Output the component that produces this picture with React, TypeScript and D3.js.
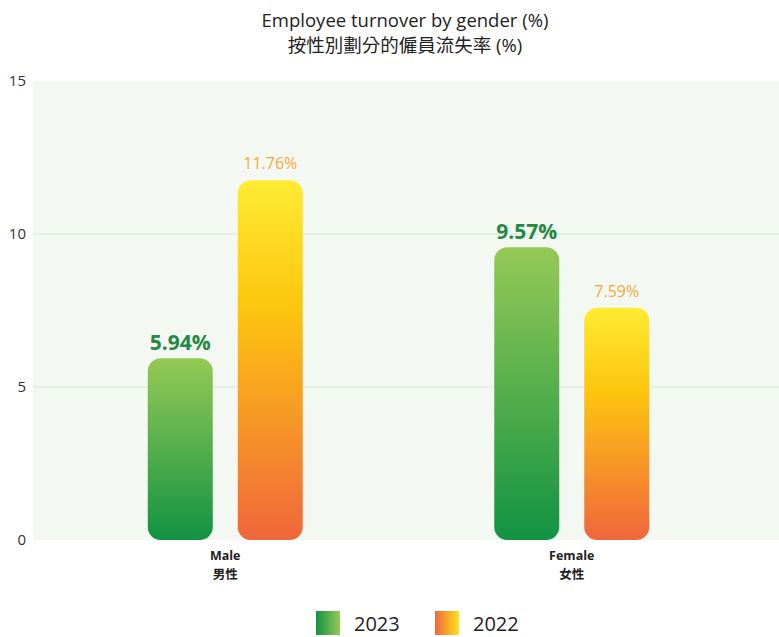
import * as d3 from "d3";

const categories = ["Male", "Female"];
const categoriesZh = ["男性", "女性"];
const seriesNames = ["2023", "2022"];
const values2023 = [5.94, 9.57];
const values2022 = [11.76, 7.59];
const yTicks = [0, 5, 10, 15];

const W = 779;
const H = 637;
const FONT = "'Open Sans', 'Noto Sans', 'Noto Sans CJK TC', sans-serif";
const plot = { left: 33, right: 779, top: 81, bottom: 540 };
const GROUP_W = 155;

export default function App() {
  const y = d3.scaleLinear().domain([0, 15]).range([plot.bottom, plot.top]);
  const x0 = d3.scaleBand<string>().domain(categories).range([52, 745]);
  const x1 = d3
    .scaleBand<string>()
    .domain(seriesNames)
    .range([0, GROUP_W])
    .paddingInner(25 / 90);
  const groupOffset = (x0.bandwidth() - GROUP_W) / 2;
  const series = [
    { name: "2023", values: values2023 },
    { name: "2022", values: values2022 },
  ];
  const r = 13;

  // rounded rect path, all corners rounded
  const barPath = (x: number, top: number, w: number, bottom: number) => {
    const p = d3.path();
    p.moveTo(x + r, top);
    p.lineTo(x + w - r, top);
    p.arcTo(x + w, top, x + w, top + r, r);
    p.lineTo(x + w, bottom - r);
    p.arcTo(x + w, bottom, x + w - r, bottom, r);
    p.lineTo(x + r, bottom);
    p.arcTo(x, bottom, x, bottom - r, r);
    p.lineTo(x, top + r);
    p.arcTo(x, top, x + r, top, r);
    p.closePath();
    return p.toString();
  };

  return (
    <div style={{ position: "absolute", left: 0, top: 0 }}>
      <svg width={W} height={H} style={{ display: "block", fontFamily: FONT }}>
        <defs>
          <linearGradient id="g2023" x1="0" y1="0" x2="0" y2="1">
            <stop offset="0%" stopColor="#95c955" />
            <stop offset="100%" stopColor="#129343" />
          </linearGradient>
          <linearGradient id="g2022" x1="0" y1="0" x2="0" y2="1">
            <stop offset="0%" stopColor="#ffeb33" />
            <stop offset="35%" stopColor="#fdc60f" />
            <stop offset="100%" stopColor="#f0663c" />
          </linearGradient>
          <linearGradient id="l2023" x1="0" y1="0" x2="1" y2="0">
            <stop offset="0%" stopColor="#129343" />
            <stop offset="100%" stopColor="#95c955" />
          </linearGradient>
          <linearGradient id="l2022" x1="0" y1="0" x2="1" y2="0">
            <stop offset="0%" stopColor="#f0663c" />
            <stop offset="100%" stopColor="#ffe31a" />
          </linearGradient>
        </defs>

        {/* title */}
        <text x={405} y={27} textAnchor="middle" fontSize={18.5} fill="#222">
          Employee turnover by gender (%)
        </text>
        <text x={405} y={52} textAnchor="middle" fontSize={18.5} fill="#222">
          按性別劃分的僱員流失率 (%)
        </text>

        {/* plot background */}
        <rect
          x={plot.left}
          y={plot.top}
          width={plot.right - plot.left}
          height={plot.bottom - plot.top}
          fill="#f3f8f2"
        />
        {yTicks
          .filter((t) => t > 0 && t < 15)
          .map((t) => (
            <line
              key={t}
              x1={plot.left}
              x2={plot.right}
              y1={y(t)}
              y2={y(t)}
              stroke="#d6e8d3"
              strokeWidth={1.2}
            />
          ))}
        {yTicks.map((t) => (
          <text
            key={t}
            x={26}
            y={y(t)}
            dy="0.35em"
            textAnchor="end"
            fontSize={15}
            fill="#333"
          >
            {t}
          </text>
        ))}

        {/* bars */}
        {categories.map((c, i) => (
          <g key={c} transform={`translate(${x0(c)! + groupOffset},0)`}>
            {series.map((s) => {
              const bx = x1(s.name)!;
              const top = y(s.values[i]);
              const is2023 = s.name === "2023";
              return (
                <g key={s.name}>
                  <path
                    d={barPath(bx, top, x1.bandwidth(), y(0))}
                    fill={`url(#g${s.name})`}
                  />
                  <text
                    x={bx + x1.bandwidth() / 2}
                    y={top - (is2023 ? 8 : 11)}
                    textAnchor="middle"
                    fontSize={is2023 ? 21 : 16}
                    fontWeight={is2023 ? 700 : 400}
                    fill={is2023 ? "#238a43" : "#f7a83b"}
                  >
                    {s.values[i].toFixed(2)}%
                  </text>
                </g>
              );
            })}
            <text
              x={GROUP_W / 2}
              y={560}
              textAnchor="middle"
              fontSize={12.5}
              fontWeight={700}
              fill="#222"
            >
              {c}
            </text>
            <text
              x={GROUP_W / 2}
              y={579}
              textAnchor="middle"
              fontSize={12.5}
              fontWeight={700}
              fill="#222"
              fontFamily="'Noto Sans CJK TC', sans-serif"
            >
              {categoriesZh[i]}
            </text>
          </g>
        ))}

        {/* legend */}
        {seriesNames.map((name, i) => {
          const lx = 316 + i * 119;
          return (
            <g key={name}>
              <rect x={lx} y={611} width={24} height={24} fill={`url(#l${name})`} />
              <text x={lx + 38} y={631} fontSize={20} fill="#222">
                {name}
              </text>
            </g>
          );
        })}
      </svg>
    </div>
  );
}
